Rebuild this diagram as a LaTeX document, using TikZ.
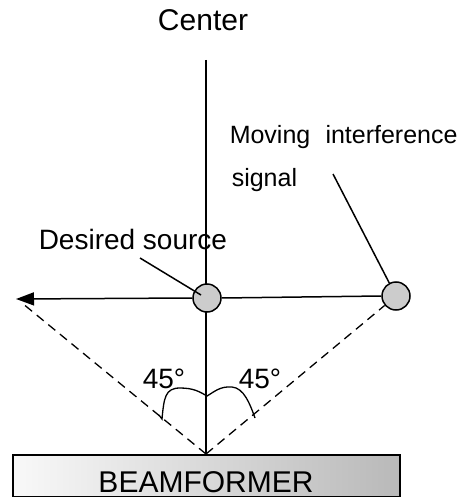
\documentclass[tikz,border=0pt]{standalone}
\usepackage{fontspec}
\setmainfont{Liberation Sans}
\usetikzlibrary{arrows.meta}
\begin{document}
\begin{tikzpicture}[x=1pt,y=-1pt,
  line width=1.5pt,
  lbl/.style={inner sep=0pt,anchor=base west},
  src/.style={circle,draw,line width=1.5pt,fill=gray!40,minimum size=28pt,inner sep=0pt},
  dsh/.style={dashed,dash pattern=on 9pt off 6pt,line width=1.3pt},
  fz/.style={font=\fontsize{#1}{#1}\selectfont}]
\useasboundingbox (0,0) rectangle (462,497);
% beamformer
\node[draw,line width=1.6pt,left color=gray!5,right color=gray!55,minimum width=387pt,minimum height=42pt,inner sep=0pt,anchor=north west] (bf) at (12,454) {};
\node[inner sep=0pt,anchor=base,fz=30] (bft) at (206,492) {BEAMFORMER};
% coordinates
\coordinate (base) at (206,454);
\coordinate (top) at (206,60);
\coordinate (tip) at (16,299);
% center label
\node[inner sep=0pt,anchor=base,fz=30] (ctr) at (203,31) {Center};
\draw (top) -- (base);
% sources
\node[src] (d) at (207,298) {};
\node[src] (i) at (396,296) {};
% lines
\draw[-{Triangle[length=18pt,width=13pt]}] (d.west) -- (tip);
\draw (d.east) -- (i.west);
\coordinate (lend) at (22,303);
\draw[dsh] (base) -- (lend);
\draw[dsh] (base) -- (i);
% labels
\node[lbl,fz=28] (ds) at (38,249) {Desired source};
\coordinate (dsa) at (140,258);
\coordinate (dsb) at (201,295);
\draw (dsa) -- (dsb);
\node[lbl,fz=25] (mi1) at (229,144) {Moving\hspace{0.33em} interference};
\node[lbl,fz=25] (mi2) at (231,186) {signal};
\coordinate (mia) at (333,174);
\draw (mia) -- (i);
% angles
\node[lbl,fz=28] (a1) at (142,388) {45°};
\node[lbl,fz=28] (a2) at (238,388) {45°};
\coordinate (bl) at (162,419);
\coordinate (bm) at (207,396);
\coordinate (br) at (255,418);
\draw[line width=1.3pt] (159,415) -- (bl) .. controls (164,398) and (165,388) .. (180,388) .. controls (194,388) and (200,392) .. (bm) .. controls (214,392) and (220,386) .. (232,387) .. controls (244,388) and (250,404) .. (br);
\end{tikzpicture}
\end{document}
